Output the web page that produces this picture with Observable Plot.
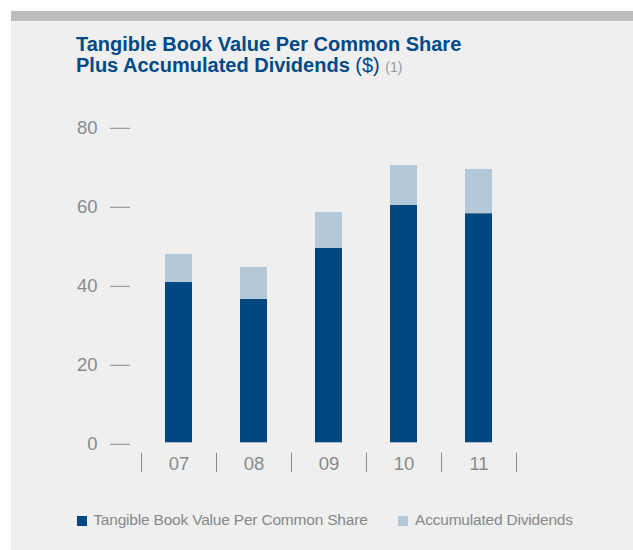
<!DOCTYPE html>
<html>
<head>
<meta charset="utf-8">
<script src="https://cdn.jsdelivr.net/npm/d3@7"></script>
<script src="https://cdn.jsdelivr.net/npm/@observablehq/plot@0.6"></script>
<style>
  html, body { margin: 0; padding: 0; background: #ffffff; width: 633px; height: 550px; overflow: hidden; }
  #panel { position: absolute; left: 11px; top: 11px; width: 622px; height: 539px; background: #eeefee; border-top: 10px solid #bcbdbf; box-sizing: border-box; }
  #title { position: absolute; left: 76px; top: 34.3px; font-family: "Liberation Sans", Arial, sans-serif; font-weight: bold; font-size: 20px; line-height: 21px; color: #004a87; white-space: nowrap; }
  #title .unit { font-weight: normal; }
  #title .note { font-weight: normal; color: #9a9a9a; font-size: 14px; }
  #chart { position: absolute; left: 11px; top: 110px; }
  .legend { position: absolute; top: 511.3px; font-family: "Liberation Sans", Arial, sans-serif; font-size: 15.5px; letter-spacing: -0.2px; color: #888888; white-space: nowrap; line-height: 18px; }
  .legend .sw { position: absolute; width: 10px; height: 10px; top: 4.4px; }
</style>
</head>
<body>
<div id="panel"></div>
<div id="title">Tangible Book Value Per Common Share<br>Plus Accumulated Dividends <span class="unit">($)</span> <span class="note">(1)</span></div>
<div id="chart"></div>
<div id="legend"></div>
<script>
const categories = ["07", "08", "09", "10", "11"];
const tangible = [40.6, 36.3, 49.2, 60.1, 58.0];
const dividends = [7.1, 8.1, 9.1, 10.1, 11.2];
const seriesNames = ["Tangible Book Value Per Common Share", "Accumulated Dividends"];
const seriesColors = ["#00467f", "#b3c8d9"];
const yTicks = [0, 20, 40, 60, 80];

const data = categories.flatMap((c, i) => [
  {year: c, series: seriesNames[0], value: tangible[i]},
  {year: c, series: seriesNames[1], value: dividends[i]}
]);

const width = 622, height = 370;
const marginLeft = 130, marginRight = 117, marginTop = 16.3, marginBottom = 37.7;
const step = (width - marginLeft - marginRight) / categories.length;
const axisColor = "#8a8a8a";

const chart = Plot.plot({
  width, height, marginLeft, marginRight, marginTop, marginBottom,
  style: {background: "transparent", fontFamily: "Liberation Sans, Arial, sans-serif", fontSize: "18.5px", color: axisColor, overflow: "visible"},
  x: {type: "band", domain: categories, paddingInner: 0.64, paddingOuter: 0.32, label: null},
  y: {domain: [0, 80], label: null},
  color: {domain: seriesNames, range: seriesColors},
  marks: [
    Plot.barY(data, {x: "year", y: "value", fill: "series"}),
    Plot.axisY({ticks: yTicks, tickSize: 20, tickPadding: 13, dx: -11, dy: 1.5, stroke: axisColor, fill: axisColor, label: null}),
    Plot.axisX({ticks: categories, tickSize: 0, tickPadding: 14, fill: axisColor, label: null}),
    Plot.axisX({ticks: categories, tickSize: 19.3, tickFormat: () => "", dx: -step / 2, dy: 10.4, stroke: axisColor, label: null}),
    Plot.axisX({ticks: [categories[categories.length - 1]], tickSize: 19.3, tickFormat: () => "", dx: step / 2, dy: 10.4, stroke: axisColor, label: null})
  ]
});
document.getElementById("chart").appendChild(chart);

const legendPos = [[76.5, 93.3], [397.6, 415]];
const legend = document.getElementById("legend");
seriesNames.forEach((name, i) => {
  const sw = document.createElement("div");
  sw.className = "legend";
  sw.style.left = legendPos[i][0] + "px";
  sw.innerHTML = `<span class="sw" style="background:${seriesColors[i]};left:0"></span>`;
  legend.appendChild(sw);
  const t = document.createElement("div");
  t.className = "legend";
  t.style.left = legendPos[i][1] + "px";
  t.textContent = name;
  legend.appendChild(t);
});
</script>
</body>
</html>
